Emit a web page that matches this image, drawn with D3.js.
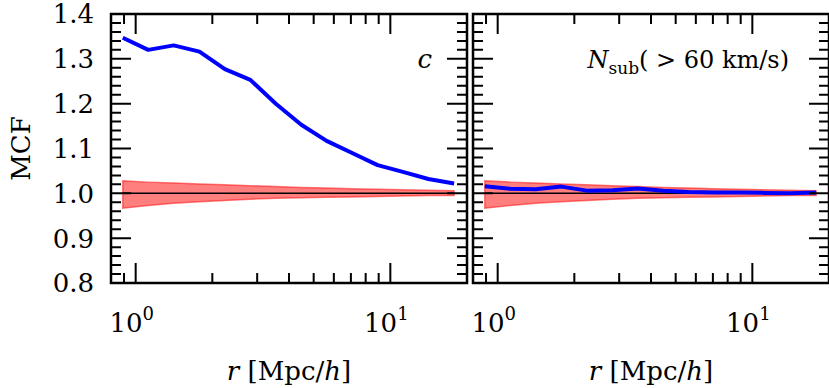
<!DOCTYPE html>
<html lang="en">
<head>
<meta charset="utf-8">
<script src="https://cdn.jsdelivr.net/npm/d3@7"></script>
<style>
  body { margin: 0; background: #fff; }
  text { font-family: "DejaVu Serif", serif; fill: #000; }
</style>
</head>
<body>
<script>
// data
var radii = [0.89, 1.12, 1.41, 1.78, 2.24, 2.82, 3.55, 4.47, 5.62, 7.08, 8.91, 11.2, 14.1, 17.8];
var mcfConc = [1.347, 1.320, 1.330, 1.316, 1.277, 1.253, 1.200, 1.153, 1.117, 1.090, 1.063, 1.048, 1.032, 1.022];
var mcfNsub = [1.016, 1.010, 1.009, 1.015, 1.006, 1.007, 1.011, 1.006, 1.003, 1.002, 1.002, 1.001, 1.000, 1.002];
var bandUp = [0.028, 0.025, 0.023, 0.021, 0.019, 0.017, 0.015, 0.013, 0.012, 0.010, 0.009, 0.008, 0.007, 0.006];
var bandLo = [-0.033, -0.027, -0.022, -0.019, -0.016, -0.013, -0.011, -0.010, -0.009, -0.008, -0.007, -0.006, -0.005, -0.005];
var yMajor = [0.8, 0.9, 1.0, 1.1, 1.2, 1.3, 1.4];
var xMajor = [1, 10];
var xExp = ["0", "1"];

var padTop = 14, ph = 269, pw = 356;
var lefts = [111, 473];
var series = [mcfConc, mcfNsub];

var svg = d3.select("body").append("svg")
  .attr("width", 829).attr("height", 388);

var x = d3.scaleLog().domain([0.8, 20]).range([0, pw]);
var y = d3.scaleLinear().domain([0.8, 1.4]).range([ph, 0]);

var yMinor = d3.range(0.8, 1.4001, 0.02).filter(function(v) {
  return Math.abs(v * 10 - Math.round(v * 10)) > 1e-6;
});
var xMinor = [0.8, 0.9, 2, 3, 4, 5, 6, 7, 8, 9, 20];

var panels = lefts.map(function(l) {
  return svg.append("g").attr("transform", "translate(" + l + "," + padTop + ")");
});

var band = radii.map(function(r, i) { return {r: r, lo: 1 + bandLo[i], hi: 1 + bandUp[i]}; });
var area = d3.area().x(function(d) { return x(d.r); })
  .y0(function(d) { return y(d.lo); }).y1(function(d) { return y(d.hi); });
var line = d3.line().x(function(d, i) { return x(radii[i]); }).y(function(d) { return y(d); });

// tick marks as one path per panel, inward on all four sides
function tickPath() {
  var p = d3.path();
  [[yMajor, 20], [yMinor, 10]].forEach(function(t) {
    t[0].forEach(function(v) {
      p.moveTo(0, y(v)); p.lineTo(t[1], y(v));
      p.moveTo(pw, y(v)); p.lineTo(pw - t[1], y(v));
    });
  });
  [[xMajor, 20], [xMinor, 10]].forEach(function(t) {
    t[0].forEach(function(v) {
      p.moveTo(x(v), ph); p.lineTo(x(v), ph - t[1]);
      p.moveTo(x(v), 0); p.lineTo(x(v), t[1]);
    });
  });
  return p.toString();
}

panels.forEach(function(p, k) {
  p.append("path").datum(band).attr("d", area)
    .attr("fill", "red").attr("fill-opacity", 0.5)
    .attr("stroke", "red").attr("stroke-opacity", 0.5).attr("stroke-width", 1.5);
  p.append("line")
    .attr("x1", x(radii[0])).attr("x2", x(radii[radii.length - 1]))
    .attr("y1", y(1)).attr("y2", y(1))
    .attr("stroke", "#000").attr("stroke-width", 1.5);
  p.append("path").datum(series[k]).attr("d", line)
    .attr("fill", "none").attr("stroke", "#0000ff").attr("stroke-width", 4)
    .attr("stroke-linejoin", "round");
  p.append("path").attr("d", tickPath())
    .attr("fill", "none").attr("stroke", "#000").attr("stroke-width", 2);
  p.append("rect").attr("width", pw).attr("height", ph)
    .attr("fill", "none").attr("stroke", "#000").attr("stroke-width", 2.5);

  var xl = p.selectAll(".xlab").data(xMajor).enter().append("text")
    .attr("x", function(d) { return x(d) - 4; }).attr("y", ph + 49)
    .attr("text-anchor", "middle").style("font-size", "26px");
  xl.append("tspan").text("10");
  xl.append("tspan").attr("dy", -12).style("font-size", "18px")
    .text(function(d, i) { return xExp[i]; });

  var lab = p.append("text").attr("x", pw / 2).attr("y", ph + 97)
    .attr("text-anchor", "middle").style("font-size", "26px");
  lab.append("tspan").style("font-style", "italic").text("r");
  lab.append("tspan").text(" [Mpc/");
  lab.append("tspan").style("font-style", "italic").text("h");
  lab.append("tspan").text("]");
});

panels[0].selectAll(".ylab").data(yMajor).enter().append("text")
  .attr("x", -17).attr("y", function(d) { return y(d); })
  .attr("dy", "0.36em").attr("text-anchor", "end")
  .style("font-size", "26px")
  .text(d3.format(".1f"));

panels[0].append("text").attr("x", pw - 35).attr("y", 54)
  .attr("text-anchor", "end").style("font-size", "26px")
  .style("font-style", "italic").text("c");

var ann = panels[1].append("text").attr("x", pw - 40).attr("y", 54)
  .attr("text-anchor", "end").style("font-size", "24px");
ann.append("tspan").style("font-style", "italic").text("N");
ann.append("tspan").attr("dy", 6).style("font-size", "17px").text("sub");
ann.append("tspan").attr("dy", -6).text("( > 60 km/s)");

svg.append("text")
  .attr("transform", "translate(30," + (padTop + ph / 2) + ") rotate(-90)")
  .attr("text-anchor", "middle").style("font-size", "26px")
  .text("MCF");
</script>
</body>
</html>
